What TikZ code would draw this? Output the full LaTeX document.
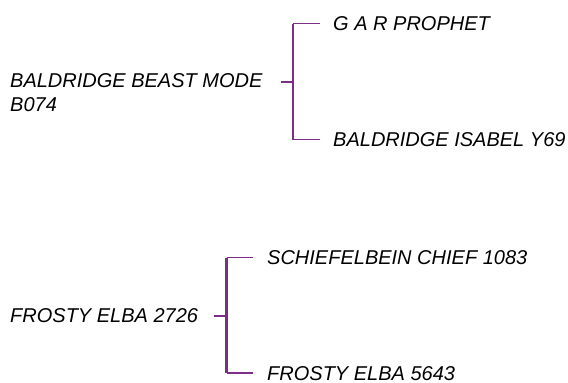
\documentclass[tikz,border=0pt]{standalone}
\usepackage{fontspec}
\setmainfont{Liberation Sans}
\definecolor{ped}{RGB}{123,45,135}
\begin{document}
\begin{tikzpicture}[x=1pt,y=-1pt,
  lbl/.style={anchor=west,inner sep=0pt,font=\itshape\fontsize{20}{24}\selectfont,text height=14.3pt,text depth=0pt},
  plbl/.style={anchor=north west,inner sep=0pt,align=left,font=\itshape\fontsize{20}{24}\selectfont},
  trunk/.style={draw=ped,line width=2.2pt},
  stub/.style={draw=ped,line width=2pt},
  twig/.style={draw=ped,line width=1.3pt}]
\useasboundingbox (0,0) rectangle (568,383);
% first tree
\node[plbl] (p1) at (10,73) {BALDRIDGE BEAST MODE\\B074};
\node[lbl] (c1a) at (333,23.5) {G A R PROPHET};
\node[lbl] (c1b) at (333,139.5) {BALDRIDGE ISABEL Y69};
\coordinate (s1) at (281,81.5);
\coordinate (t1) at (293,23.5);
\coordinate (b1) at (293,139.5);
\draw[trunk] (t1) -- (b1);
\draw[stub] (s1) -- (t1 |- s1);
\draw[twig,shorten >=13pt] (t1) -- (c1a.west);
\draw[twig,shorten >=13pt] (b1) -- (c1b.west);
% second tree
\node[lbl] (p2) at (10,315.5) {FROSTY ELBA 2726};
\node[lbl] (c2a) at (267,257.5) {SCHIEFELBEIN CHIEF 1083};
\node[lbl] (c2b) at (267,373) {FROSTY ELBA 5643};
\coordinate (s2) at (214,315.7);
\coordinate (t2) at (226.5,257.5);
\coordinate (b2) at (226.5,373);
\draw[trunk] (t2) -- (b2);
\draw[stub] (s2) -- (t2 |- s2);
\draw[twig,shorten >=14pt] (t2) -- (c2a.west);
\draw[twig,shorten >=14pt] (b2) -- (c2b.west);
\end{tikzpicture}
\end{document}
